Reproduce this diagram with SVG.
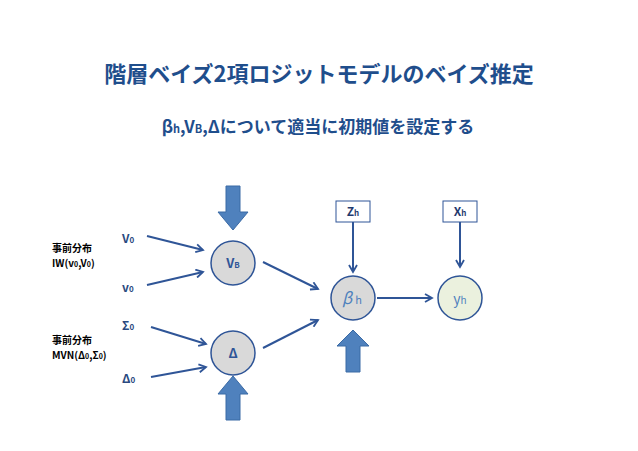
<svg xmlns="http://www.w3.org/2000/svg" width="638" height="451" viewBox="0 0 638 451">
<style>
text{font-family:"Noto Sans CJK JP","Liberation Sans",sans-serif;}
.t{fill:#1f4e8c;font-weight:bold}
.lb{fill:#2a4a80;font-weight:bold;font-size:12px}
.bk{fill:#000;font-size:10px;font-weight:bold}
.c{fill:#d9d9d9;stroke:#2f5597;stroke-width:1.5}
.ln{stroke:#2f5597;stroke-width:2;fill:none;marker-end:url(#a)}
.big{fill:#4f81bd;stroke:#3a6aa5;stroke-width:1}
.bx{fill:#fff;stroke:#2f5597;stroke-width:1}
</style>
<defs><marker id="a" markerWidth="10" markerHeight="10" refX="8" refY="5" orient="auto" markerUnits="userSpaceOnUse"><path d="M1,1 L8,5 L1,9" fill="none" stroke="#2f5597" stroke-width="1.8"/></marker></defs>
<rect width="638" height="451" fill="#fff"/>
<text class="t" x="319" y="82" font-size="22" text-anchor="middle">階層ベイズ2項ロジットモデルのベイズ推定</text>
<text class="t" x="318" y="133" font-size="17" text-anchor="middle">β<tspan font-size="11">h</tspan>,V<tspan font-size="11">B</tspan>,Δについて適当に初期値を設定する</text>
<g id="labels">
<text class="lb" x="122" y="243">V<tspan font-size="8">0</tspan></text>
<text class="lb" x="122" y="292">v<tspan font-size="8">0</tspan></text>
<text class="lb" x="122" y="330">Σ<tspan font-size="8">0</tspan></text>
<text class="lb" x="122" y="383">Δ<tspan font-size="8">0</tspan></text>
<text class="bk" x="52" y="252">事前分布</text>
<text class="bk" x="52" y="267">IW(v<tspan font-size="7">0</tspan>,V<tspan font-size="7">0</tspan>)</text>
<text class="bk" x="52" y="344">事前分布</text>
<text class="bk" x="52" y="359">MVN(Δ<tspan font-size="7">0</tspan>,Σ<tspan font-size="7">0</tspan>)</text>
</g>
<g id="VB"><circle class="c" cx="233" cy="263" r="22"/><text x="233" y="268" font-size="13" fill="#2f5597" text-anchor="middle" font-weight="bold">V<tspan font-size="8">B</tspan></text></g>
<g id="Delta"><circle class="c" cx="233" cy="353" r="22"/><text x="233" y="358" font-size="13" fill="#2f5597" text-anchor="middle" font-weight="bold">Δ</text></g>
<g id="beta"><circle class="c" cx="353" cy="298" r="22"/><text x="352" y="304" font-size="16" fill="#4f81bd" text-anchor="middle" font-style="italic">β<tspan font-size="11" font-style="normal" dx="3">h</tspan></text></g>
<g id="y"><circle cx="460" cy="298" r="22" fill="#ebf1de" stroke="#2f5597" stroke-width="1.5"/><text x="460" y="304" font-size="14" fill="#4f81bd" text-anchor="middle">y<tspan font-size="10">h</tspan></text></g>
<g id="Zh"><rect class="bx" x="336" y="201" width="34" height="21"/><text x="353" y="216" font-size="12" font-weight="bold" fill="#1f3a6e" text-anchor="middle">Z<tspan font-size="8">h</tspan></text></g>
<g id="Xh"><rect class="bx" x="443" y="201" width="34" height="21"/><text x="460" y="216" font-size="12" font-weight="bold" fill="#1f3a6e" text-anchor="middle">X<tspan font-size="8">h</tspan></text></g>
<g id="connectors">
<line class="ln" x1="147" y1="236" x2="203" y2="250"/>
<line class="ln" x1="147" y1="285" x2="203" y2="272"/>
<line class="ln" x1="151" y1="327" x2="206" y2="344"/>
<line class="ln" x1="151" y1="377" x2="206" y2="367"/>
<line class="ln" x1="263" y1="262" x2="318" y2="289"/>
<line class="ln" x1="263" y1="348" x2="318" y2="320"/>
<line class="ln" x1="353" y1="222" x2="353" y2="272"/>
<line class="ln" x1="460" y1="222" x2="460" y2="267"/>
<line class="ln" x1="377" y1="298" x2="432" y2="298"/>
<path class="big" d="M226,186 H240 V212 H248 L233,230 L218,212 H226 Z"/>
<path class="big" d="M226,420 H240 V394 H248 L233,376 L218,394 H226 Z"/>
<path class="big" d="M346,372 H360 V346 H369 L353,330 L337,346 H346 Z"/>
</g>
</svg>
